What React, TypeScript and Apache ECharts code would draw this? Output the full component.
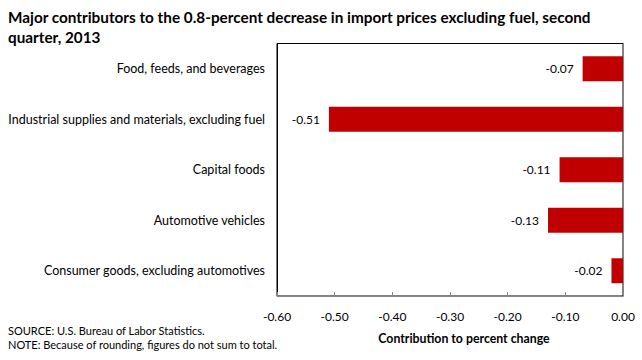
import React, { useEffect, useRef } from "react";
import * as echarts from "echarts";

const categories = [
  "Food, feeds, and beverages",
  "Industrial supplies and materials, excluding fuel",
  "Capital foods",
  "Automotive vehicles",
  "Consumer goods, excluding automotives",
];
const values = [-0.07, -0.51, -0.11, -0.13, -0.02];
const xMin = -0.6;
const xMax = 0;
const xInterval = 0.1;
const titleLines = [
  "Major contributors to the 0.8-percent decrease in import prices excluding fuel, second",
  "quarter, 2013",
];
const xAxisName = "Contribution to percent change";
const sourceText = "SOURCE: U.S. Bureau of Labor Statistics.";
const noteText = "NOTE: Because of rounding, figures do not sum to total.";

const FONT = "Lato, 'Noto Sans', sans-serif";

export default function App() {
  const ref = useRef<HTMLDivElement>(null);
  useEffect(() => {
    if (!ref.current) return;
    const chart = echarts.init(ref.current, null, { renderer: "svg" });
    chart.setOption({
      animation: false,
      backgroundColor: "#ffffff",
      textStyle: { fontFamily: FONT },
      grid: {
        left: 277,
        right: 19,
        top: 43.5,
        bottom: 64,
        show: true,
        borderColor: "#000000",
        borderWidth: 1,
        containLabel: false,
      },
      xAxis: {
        type: "value",
        min: xMin,
        max: xMax,
        interval: xInterval,
        axisLine: { show: true, lineStyle: { color: "#868686", width: 1 } },
        axisTick: { show: true, inside: true, length: 4, lineStyle: { color: "#868686" } },
        splitLine: { show: false },
        axisLabel: {
          formatter: (v: number) => v.toFixed(2),
          color: "#000000",
          fontSize: 12,
          fontFamily: FONT,
          margin: 14,
        },
      },
      yAxis: [
        {
          type: "category",
          data: categories,
          inverse: true,
          position: "left",
          axisLine: { show: true, onZero: false, lineStyle: { color: "#000000", width: 1 } },
          axisTick: { show: false },
          axisLabel: { color: "#000000", fontSize: 12.5, fontFamily: FONT, margin: 12 },
        },
        {
          type: "category",
          data: categories,
          inverse: true,
          position: "right",
          axisLine: { show: true, onZero: false, lineStyle: { color: "#868686", width: 1 } },
          axisTick: { show: false },
          axisLabel: { show: false },
        },
      ],
      series: [
        {
          type: "bar",
          data: values,
          yAxisIndex: 0,
          barWidth: 25,
          itemStyle: { color: "#C00000" },
          label: {
            show: true,
            position: "left",
            distance: 9,
            formatter: (p: any) => (p.value as number).toFixed(2),
            color: "#000000",
            fontSize: 12,
            fontFamily: FONT,
          },
        },
      ],
      graphic: [
        {
          type: "text",
          left: 8,
          top: 7,
          style: {
            text: titleLines.join("\n"),
            font: `bold 15.3px ${FONT}`,
            fill: "#000000",
            lineHeight: 20,
          },
        },
        {
          type: "text",
          x: 464,
          y: 338,
          style: {
            text: xAxisName,
            font: `bold 12.3px ${FONT}`,
            fill: "#000000",
            textAlign: "center",
            textVerticalAlign: "middle",
          },
        },
        {
          type: "text",
          x: 8,
          y: 330,
          style: {
            text: sourceText,
            font: `11px ${FONT}`,
            fill: "#000000",
            textVerticalAlign: "middle",
          },
        },
        {
          type: "text",
          x: 8,
          y: 344,
          style: {
            text: noteText,
            font: `11px ${FONT}`,
            fill: "#000000",
            textVerticalAlign: "middle",
          },
        },
      ],
    });
    return () => chart.dispose();
  }, []);
  return (
    <div
      ref={ref}
      style={{ position: "fixed", left: 0, top: 0, width: 642, height: 360 }}
    />
  );
}
